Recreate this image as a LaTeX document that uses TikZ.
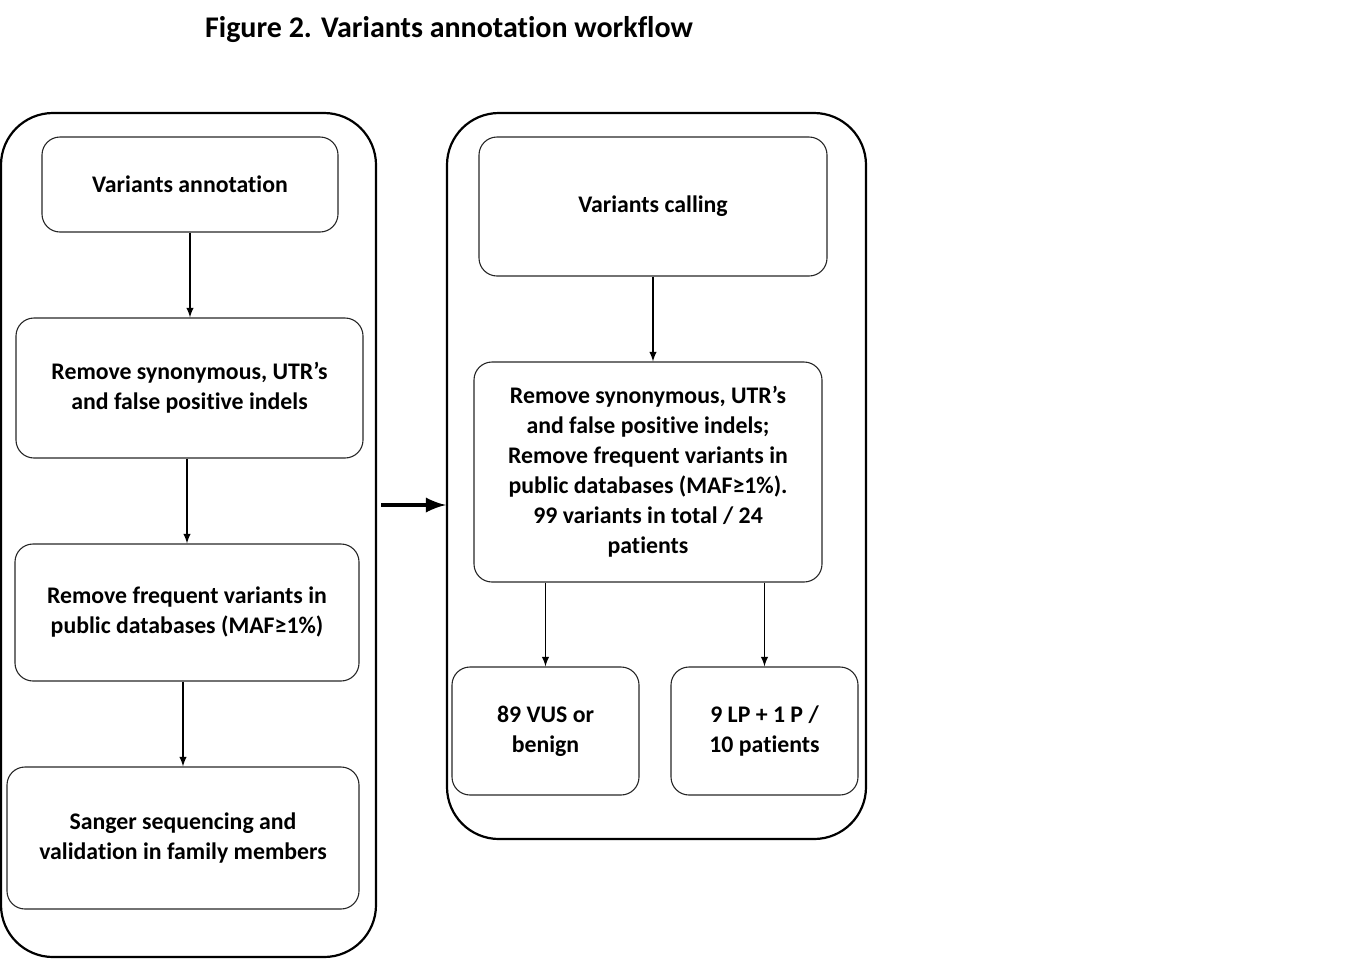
\documentclass[tikz,border=0pt]{standalone}
\usepackage{fontspec}
\setmainfont[Ligatures=NoCommon]{Carlito}
\usepackage{tikz}
\usetikzlibrary{arrows,positioning}

\tikzset{
  box/.style={draw=black!85, line width=0.55pt, rounded corners=9pt, align=center,
    font=\bfseries\fontsize{11.9}{15}\selectfont, inner sep=2pt},
  frame/.style={draw, line width=1.1pt, rounded corners=26pt},
  flow/.style={-latex, line width=0.65pt}
}

\begin{document}
\begin{tikzpicture}[x=0.5pt, y=-0.5pt]
        \useasboundingbox (0,0) rectangle (1353,960);
        \node[font=\bfseries\fontsize{15}{18}\selectfont] (title) at (449,30) {Figure 2. Variants annotation workflow};

        % the two panels
        \node[frame, minimum width=187.5pt, minimum height=422pt] (left) at (188.5,535) {};
        \node[frame, minimum width=209.5pt, minimum height=363pt] (right) at (656.5,476) {};

        % left column
        \node[box, minimum width=148pt, minimum height=47.5pt] (ann) at (190,184.5) {Variants annotation};
        \node[box, minimum width=173.5pt, minimum height=70pt] (syn) at (189.5,388) {Remove synonymous, UTR’s\\and false positive indels};
        \node[box, minimum width=172pt, minimum height=68.5pt] (maf) at (187,612.5) {Remove frequent variants in\\public databases (MAF≥1\%)};
        \node[box, minimum width=176pt, minimum height=71pt] (sanger) at (183,838) {Sanger sequencing and\\validation in family members};

        % right column
        \node[box, minimum width=174pt, minimum height=69.5pt] (call) at (653,206.5) {Variants calling};
        \node[box, minimum width=174pt, minimum height=110pt] (filt) at (648,472) {Remove synonymous, UTR’s\\and false positive indels;\\Remove frequent variants in\\public databases (MAF≥1\%).\\99 variants in total / 24\\patients};
        \node[box, minimum width=93.5pt, minimum height=64pt] (vus) at (545.5,731) {89 VUS or\\benign};
        \node[box, minimum width=93.5pt, minimum height=64pt] (lp) at (764.5,731) {9 LP + 1 P /\\10 patients};

        \draw[flow] (ann.south) -- (ann.south |- syn.north);
        \draw[flow] (maf.north |- syn.south) -- (maf.north);
        \draw[flow] (sanger.north |- maf.south) -- (sanger.north);
        \draw[flow] (call.south) -- (call.south |- filt.north);
        \draw[flow] (vus.north |- filt.south) -- (vus.north);
        \draw[flow] (lp.north |- filt.south) -- (lp.north);

        \coordinate (mid) at (412,505);
        \draw[-latex, line width=2.4pt] ([xshift=2pt]left.east |- mid) -- (right.west |- mid);
    \end{tikzpicture}
\end{document}
